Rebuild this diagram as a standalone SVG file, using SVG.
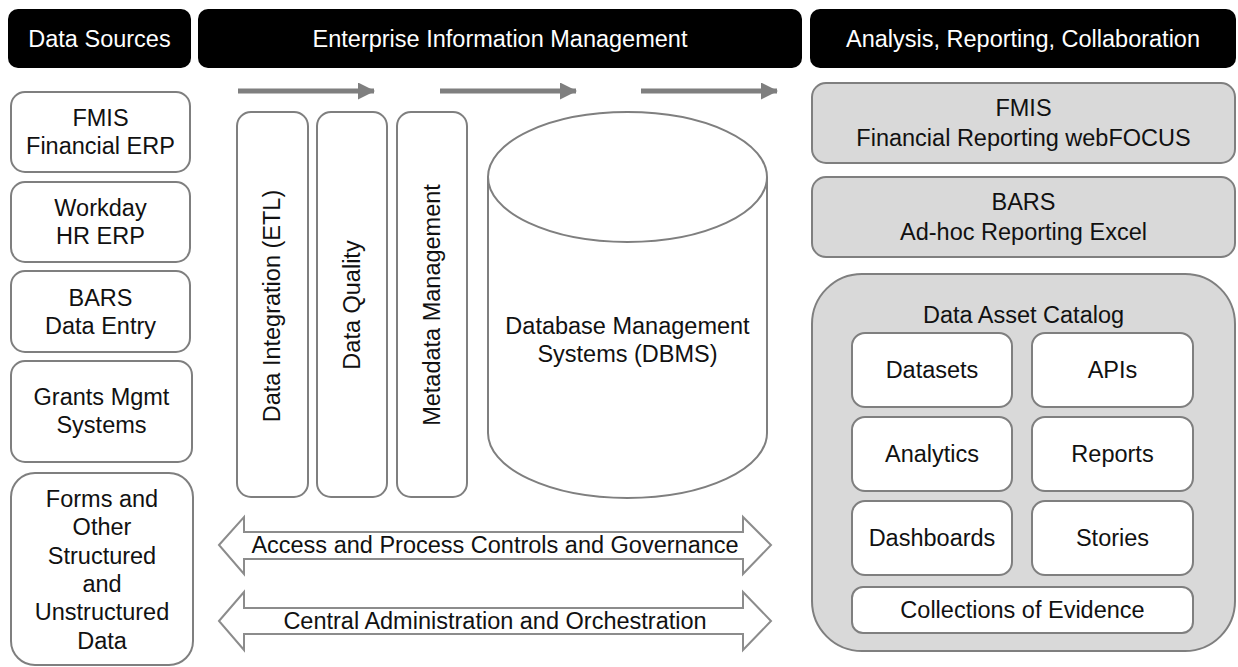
<svg xmlns="http://www.w3.org/2000/svg" width="1238" height="667" viewBox="0 0 1238 667">
<defs>
<style>
text{font-family:"Liberation Sans",Arial,sans-serif;font-size:23.5px;fill:#111;text-anchor:middle}
.hdr rect{fill:#000}
.hdr text{fill:#fff}
.box{fill:#fff;stroke:#7f7f7f;stroke-width:2}
.gbox{fill:#d9d9d9;stroke:#7f7f7f;stroke-width:2}
.flow{stroke:#7f7f7f;stroke-width:5;fill:none}
.dbl{fill:#fff;stroke:#8c8c8c;stroke-width:2}
</style>
<marker id="ah" markerUnits="userSpaceOnUse" markerWidth="18" markerHeight="18" refX="16" refY="8.5" orient="auto">
<path d="M0,0 L17,8.5 L0,17 Z" fill="#7f7f7f"/>
</marker>
</defs>
<rect width="1238" height="667" fill="#fff"/>

<g id="hdr-sources" class="hdr"><rect x="8" y="9" width="183" height="59" rx="10"/><text x="99.5" y="47">Data Sources</text></g>
<g id="hdr-eim" class="hdr"><rect x="198" y="9" width="604" height="59" rx="10"/><text x="500" y="47">Enterprise Information Management</text></g>
<g id="hdr-arc" class="hdr"><rect x="810" y="9" width="426" height="59" rx="10"/><text x="1023" y="47">Analysis, Reporting, Collaboration</text></g>

<g id="src-fmis"><rect class="box" x="11" y="92" width="179" height="80" rx="14"/><text x="100.5" y="126">FMIS</text><text x="100.5" y="154">Financial ERP</text></g>
<g id="src-workday"><rect class="box" x="11" y="182" width="179" height="80" rx="14"/><text x="100.5" y="216">Workday</text><text x="100.5" y="244">HR ERP</text></g>
<g id="src-bars"><rect class="box" x="11" y="271" width="179" height="81" rx="14"/><text x="100.5" y="306">BARS</text><text x="100.5" y="334">Data Entry</text></g>
<g id="src-grants"><rect class="box" x="11" y="361" width="181" height="101" rx="14"/><text x="101.5" y="405">Grants Mgmt</text><text x="101.5" y="433">Systems</text></g>
<g id="src-forms"><rect class="box" x="11" y="473" width="182" height="192" rx="24"/>
<text x="102" y="507">Forms and</text><text x="102" y="535">Other</text><text x="102" y="564">Structured</text><text x="102" y="592">and</text><text x="102" y="620">Unstructured</text><text x="102" y="649">Data</text></g>

<g id="connectors">
<line class="flow" x1="238" y1="91" x2="374" y2="91" marker-end="url(#ah)"/>
<line class="flow" x1="440" y1="91" x2="576" y2="91" marker-end="url(#ah)"/>
<line class="flow" x1="641" y1="91" x2="777" y2="91" marker-end="url(#ah)"/>
</g>

<g id="etl"><rect class="box" x="237" y="112" width="71" height="385" rx="14"/><text transform="translate(280,306) rotate(-90)">Data Integration (ETL)</text></g>
<g id="dq"><rect class="box" x="317" y="112" width="70" height="385" rx="14"/><text transform="translate(360,305) rotate(-90)">Data Quality</text></g>
<g id="meta"><rect class="box" x="397" y="112" width="70" height="385" rx="14"/><text transform="translate(440,305) rotate(-90)">Metadata Management</text></g>

<g id="dbms">
<path class="box" d="M488,177 L488,433 A139.5,65 0 0,0 767,433 L767,177"/>
<ellipse class="box" cx="627.5" cy="177" rx="139.5" ry="65"/>
<text x="627.5" y="334">Database Management</text><text x="627.5" y="362">Systems (DBMS)</text>
</g>

<g id="access"><path class="dbl" d="M219,545 L244,517 L244,532 L743,532 L743,517 L771,545 L743,574 L743,559 L244,559 L244,574 Z"/><text x="495" y="553">Access and Process Controls and Governance</text></g>
<g id="central"><path class="dbl" d="M219,621 L244,592 L244,608 L743,608 L743,592 L771,621 L743,650 L743,634 L244,634 L244,650 Z"/><text x="495" y="629">Central Administration and Orchestration</text></g>

<g id="out-fmis"><rect class="gbox" x="812" y="83" width="423" height="80" rx="14"/><text x="1023.5" y="116">FMIS</text><text x="1023.5" y="146">Financial Reporting webFOCUS</text></g>
<g id="out-bars"><rect class="gbox" x="812" y="177" width="423" height="80" rx="14"/><text x="1023.5" y="210">BARS</text><text x="1023.5" y="240">Ad-hoc Reporting Excel</text></g>

<g id="catalog">
<rect class="gbox" x="812" y="274" width="423" height="377" rx="50"/>
<text x="1023.5" y="323">Data Asset Catalog</text>
<g id="datasets"><rect class="box" x="852" y="333" width="160" height="74" rx="13"/><text x="932" y="378">Datasets</text></g>
<g id="apis"><rect class="box" x="1032" y="333" width="161" height="74" rx="13"/><text x="1112.5" y="378">APIs</text></g>
<g id="analytics"><rect class="box" x="852" y="417" width="160" height="74" rx="13"/><text x="932" y="462">Analytics</text></g>
<g id="reports"><rect class="box" x="1032" y="417" width="161" height="74" rx="13"/><text x="1112.5" y="462">Reports</text></g>
<g id="dashboards"><rect class="box" x="852" y="501" width="160" height="74" rx="13"/><text x="932" y="546">Dashboards</text></g>
<g id="stories"><rect class="box" x="1032" y="501" width="161" height="74" rx="13"/><text x="1112.5" y="546">Stories</text></g>
<g id="evidence"><rect class="box" x="852" y="587" width="341" height="46" rx="11"/><text x="1022.5" y="618">Collections of Evidence</text></g>
</g>
</svg>
